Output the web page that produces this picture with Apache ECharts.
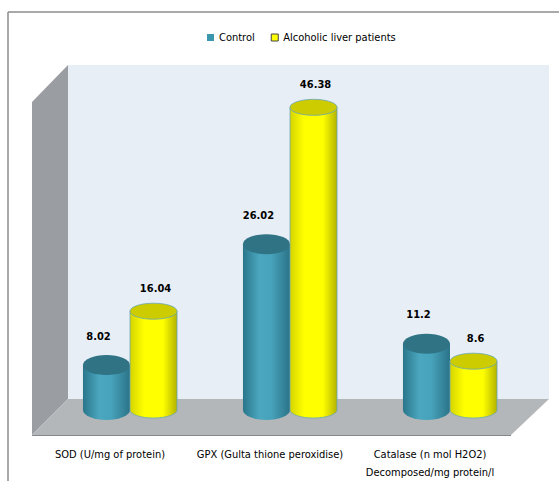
<!DOCTYPE html>
<html>
<head>
<meta charset="utf-8">
<script src="https://cdn.jsdelivr.net/npm/echarts@6/dist/echarts.min.js"></script>
<style>html,body{margin:0;padding:0;background:#fff}#c{width:559px;height:481px}</style>
</head>
<body>
<div id="c"></div>
<script>
const categories = ['SOD (U/mg of protein)', 'GPX (Gulta thione peroxidise)', 'Catalase (n mol H2O2)\nDecomposed/mg protein/l'];
const seriesNames = ['Control', 'Alcoholic liver patients'];
const controlValues = [8.02, 26.02, 11.2];
const alcoholicValues = [16.04, 46.38, 8.6];

const FONT = "'Liberation Sans Narrow', 'DejaVu Sans Condensed', 'Liberation Sans', sans-serif";

function grad(stops) {
  return { type: 'linear', x: 0, y: 0, x2: 1, y2: 0, colorStops: stops.map(s => ({ offset: s[0], color: s[1] })) };
}

function makeRender(side, look) {
  return function (params, api) {
    const cat = api.value(0), val = api.value(1);
    const top = api.coord([cat, val]);
    const base = api.coord([cat, 0]);
    const band = api.size([1, 0])[0];
    const rx = band * 0.147;
    const ry = look.ry;
    const cx = top[0] + side * rx;
    const ty = top[1];
    const by = base[1] - 9;
    const x1 = cx - rx, x2 = cx + rx;
    const bodyPath = `M${x1} ${ty} L${x1} ${by} A${rx} ${ry} 0 0 0 ${x2} ${by} L${x2} ${ty} Z`;
    const capPath = `M${x1} ${ty} A${rx} ${ry} 0 1 0 ${x2} ${ty} A${rx} ${ry} 0 1 0 ${x1} ${ty} Z`;
    return {
      type: 'group',
      children: [
        { type: 'path', shape: { pathData: bodyPath }, style: { fill: grad(look.body), stroke: look.stroke, lineWidth: look.stroke ? 0.8 : 0 } },
        { type: 'path', shape: { pathData: capPath }, style: { fill: look.cap, stroke: look.stroke, lineWidth: look.stroke ? 0.8 : 0 } },
        { type: 'text', style: { text: String(val), x: cx + look.lx, y: ty + look.ly, textAlign: 'center', textVerticalAlign: 'middle', fill: '#000', font: 'bold 11px ' + FONT } }
      ]
    };
  };
}

const tealLook = {
  ry: 10,
  body: [[0, '#2A768B'], [0.35, '#4AA7BF'], [0.6, '#47A3BB'], [1, '#2B7388']],
  cap: '#2F7385', stroke: null, lx: -8, ly: -29
};
const yellowLook = {
  ry: 8,
  body: [[0, '#D4D400'], [0.3, '#FFFF00'], [0.7, '#FFFF00'], [1, '#B3B300']],
  cap: '#CCCC00', stroke: '#6AA6B5', lx: 2, ly: -23
};

const chart = echarts.init(document.getElementById('c'), null, { renderer: 'svg' });
chart.setOption({
  animation: false,
  backgroundColor: '#fff',
  graphic: [
    { type: 'rect', shape: { x: 68, y: 65, width: 481, height: 334 }, style: { fill: '#E8EEF5' }, silent: true },
    { type: 'polygon', shape: { points: [[32, 102], [68, 65], [68, 399], [32, 435]] }, style: { fill: '#9A9DA1' }, silent: true },
    { type: 'polygon', shape: { points: [[68, 399], [549, 399], [511, 435], [32, 435]] }, style: { fill: '#B4B7BA' }, silent: true },
    { type: 'line', shape: { x1: 32, y1: 435.5, x2: 511, y2: 435.5 }, style: { stroke: '#85888b', lineWidth: 1 }, silent: true },
    { type: 'line', shape: { x1: 8, y1: 12, x2: 559, y2: 12 }, style: { stroke: '#8c8c8c', lineWidth: 1.5 }, silent: true },
    { type: 'line', shape: { x1: 8, y1: 12, x2: 8, y2: 481 }, style: { stroke: '#8c8c8c', lineWidth: 1.5 }, silent: true }
  ],
  legend: {
    left: 202, top: 27,
    itemWidth: 7, itemHeight: 7, itemGap: 16,
    icon: 'rect',
    textStyle: { fontFamily: FONT, fontSize: 11, color: '#000' },
    data: [
      { name: seriesNames[0], itemStyle: { color: '#3A97AE' } },
      { name: seriesNames[1], itemStyle: { color: '#FFFF00', borderColor: '#444', borderWidth: 1 } }
    ]
  },
  grid: { left: 50, right: 29, top: 83, bottom: 59 },
  xAxis: {
    type: 'category',
    data: categories,
    axisLine: { show: false },
    axisTick: { show: false },
    splitLine: { show: false },
    axisLabel: {
      margin: 26, interval: 0,
      padding: [0, 40, 0, 0],
      fontFamily: FONT, fontSize: 11, color: '#000', lineHeight: 18
    }
  },
  yAxis: { type: 'value', min: 0, max: 50, show: false },
  series: [
    {
      name: seriesNames[0], type: 'custom', z: 3,
      itemStyle: { color: '#3A97AE' },
      encode: { x: 0, y: 1 },
      data: controlValues.map((v, i) => [i, v]),
      renderItem: makeRender(-1, tealLook)
    },
    {
      name: seriesNames[1], type: 'custom', z: 4,
      itemStyle: { color: '#FFFF00' },
      encode: { x: 0, y: 1 },
      data: alcoholicValues.map((v, i) => [i, v]),
      renderItem: makeRender(1, yellowLook)
    }
  ]
});
</script>
</body>
</html>
